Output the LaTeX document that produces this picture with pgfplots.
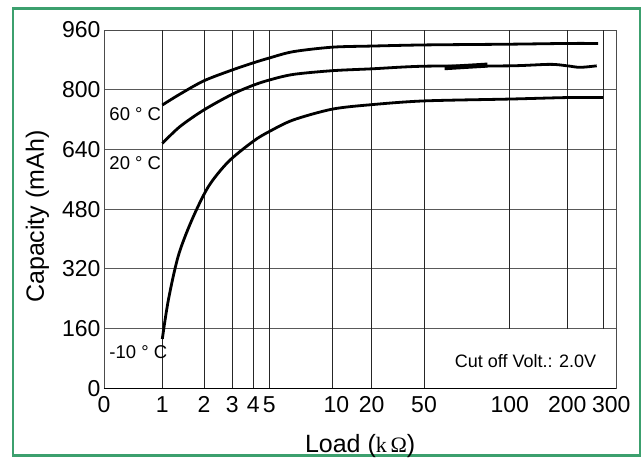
\documentclass[border=0pt]{standalone}
\usepackage{pgfplots}
\pgfplotsset{compat=1.18}
\usepackage{fontspec}
\setmainfont{Liberation Sans}
\newfontfamily\serif{Liberation Serif}
\definecolor{frame}{RGB}{60,160,110}

\begin{document}
\begin{tikzpicture}
\path[use as bounding box] (-104pt,-68.7pt) rectangle (540pt,388.3pt);
\draw[frame, line width=2.5pt] (-91.2pt,-67.4pt) rectangle (536pt,379.8pt);
\begin{axis}[
  at={(0pt,0pt)}, anchor=south west,
  scale only axis, width=512.3pt, height=358.3pt,
  xmin=0, xmax=300, ymin=0, ymax=960,
  % the load axis is stretched piecewise, as in the data sheet
  x coord trafo/.code={\pgfmathparse{#1<1 ? 5.83*#1 : (#1<2 ? 5.83+4.17*(#1-1) : (#1<3 ? 10+2.83*(#1-2) : (#1<4 ? 12.83+2.1*(#1-3) : (#1<5 ? 14.93+1.6*(#1-4) : (#1<10 ? 16.53+1.26*(#1-5) : (#1<20 ? 22.83+0.394*(#1-10) : (#1<50 ? 26.77+0.17433*(#1-20) : (#1<100 ? 32+0.1714*(#1-50) : (#1<200 ? 40.57+0.0576*(#1-100) : 46.33+0.049*(#1-200))))))))))}},
  xtick={0,1,2,3,4,5,10,20,50,100,200,300},
  xticklabels={0,1,2,3,4,5,\hspace*{8pt}10,20,50,100,200,\hspace*{-10pt}300},
  ytick={0,160,...,960},
  ymajorgrids, major grid style={black!65, line width=0.9pt},
  major tick length=0pt,
  tick label style={font=\fontsize{23}{27}\selectfont},
  /pgf/number format/assume math mode=true,
  xticklabel style={yshift=-5pt},
  axis line style={black!70, line width=0.9pt},
  xlabel={Load ({\serif\fontsize{22}{26}\selectfont k\,Ω})},
  xlabel style={at={(axis description cs:0.5,-0.1797)}, anchor=base, font=\fontsize{25}{30}\selectfont},
  ylabel={Capacity (mAh)},
  ylabel style={at={(axis description cs:-0.13,0.479)}, anchor=center, font=\fontsize{25}{30}\selectfont},
  clip=false,
]
% vertical grid lines
\addplot[black!85, line width=0.8pt, forget plot] coordinates {(1,0)(1,960)};
\addplot[black!85, line width=0.8pt, forget plot] coordinates {(2,0)(2,960)};
\addplot[black!85, line width=0.8pt, forget plot] coordinates {(3,0)(3,960)};
\addplot[black!85, line width=0.8pt, forget plot] coordinates {(4,0)(4,960)};
\addplot[black!85, line width=0.8pt, forget plot] coordinates {(5,0)(5,960)};
\addplot[black!85, line width=0.8pt, forget plot] coordinates {(10,0)(10,960)};
\addplot[black!85, line width=0.8pt, forget plot] coordinates {(20,0)(20,960)};
\addplot[black!85, line width=0.8pt, forget plot] coordinates {(50,0)(50,960)};
\addplot[black!85, line width=0.8pt, forget plot] coordinates {(100,160)(100,960)};
\addplot[black!85, line width=0.8pt, forget plot] coordinates {(200,160)(200,960)};
\addplot[black!85, line width=0.8pt, forget plot] coordinates {(273,160)(273,960)};
\addplot[black, line width=0.9pt, forget plot] coordinates {(0,0)(300,0)};

% 60 C
\addplot[black, line width=2.8pt, smooth] coordinates {
  (1,759)(1.42,788)(2,824)(3,853)(4,872)(5,885)(6.9,902)
  (10,914)(20,917)(50,920)(100,922)(200,924)(263,924)};
% 20 C
\addplot[black, line width=2.8pt, smooth] coordinates {
  (1,656)(1.42,701)(2,746)(3,788)(4,812)(5,826)(6.9,841)
  (10,851)(20,856)(50,863)(100,864)(170,868)(200,864)
  (226,860)(260,864)};
\addplot[black, line width=5pt] coordinates {(62,859)(87,866)};
% -10 C
\addplot[black, line width=2.8pt, smooth] coordinates {
  (1,132)(1.146,237)(1.384,355)(1.705,450)(2.152,540)(2.859,607)
  (4,662)(5,688)(6.9,719)(10,748)(20,760)(50,770)(100,775)
  (200,779)(273,779)};

\node[anchor=west, inner sep=0pt, font=\fontsize{18.5}{22}\selectfont] at (rel axis cs:0.0103,0.7656) {60 ° C};
\node[anchor=west, inner sep=0pt, font=\fontsize{18.5}{22}\selectfont] at (rel axis cs:0.0103,0.6297) {20 ° C};
\node[anchor=west, inner sep=0pt, font=\fontsize{18.5}{22}\selectfont] at (rel axis cs:0.0103,0.1005) {-10 ° C};
\node[font=\fontsize{18}{22}\selectfont] at (rel axis cs:0.8228,0.0762) {Cut off Volt.: 2.0V};
\end{axis}
\end{tikzpicture}
\end{document}
